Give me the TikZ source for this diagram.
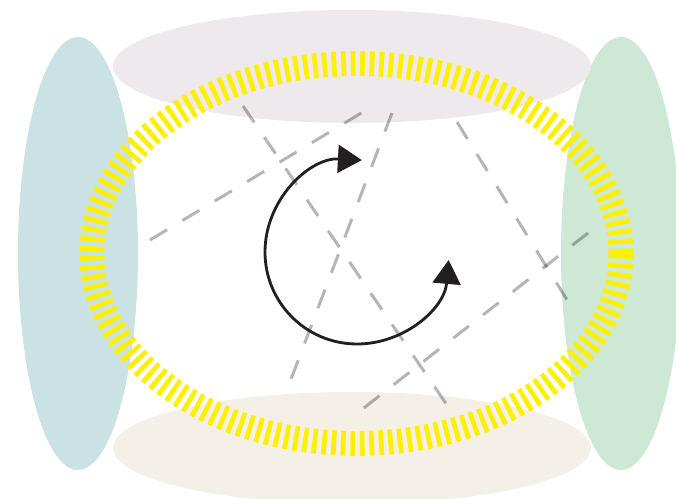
\documentclass[tikz,border=0pt]{standalone}
\usepackage{tikz}
\usetikzlibrary{arrows.meta}

\definecolor{capblue}{RGB}{203,226,228}
\definecolor{capgreen}{RGB}{205,232,212}
\definecolor{caplilac}{RGB}{237,233,237}
\definecolor{capsand}{RGB}{244,240,232}
\definecolor{ringyellow}{RGB}{255,240,0}
\definecolor{arcblack}{RGB}{35,31,32}

\tikzset{
    ringline/.style={draw=ringyellow, line width=14.2pt, dash pattern=on 2.7pt off 2.7pt},
    crossline/.style={draw=black, draw opacity=0.29, line width=1.7pt, dash pattern=on 11.3pt off 10.2pt},
    turnarrow/.style={draw=arcblack, line width=1.6pt, {Triangle[length=13.6pt, width=15.9pt]}-{Triangle[length=13.6pt, width=15.9pt]}}
}

\begin{document}
\begin{tikzpicture}[x=0.02cm, y=0.02cm]

    % ================= canvas =================
    \useasboundingbox (0,0) rectangle (676,499);
    \clip (0,0) rectangle (676,499);

    % ================= outer caps (soft ellipses) =================
    \coordinate (west)  at (78, 245.5);
    \coordinate (east)  at (621, 245.5);
    \coordinate (north) at (352, 432.5);
    \coordinate (south) at (352, 51);

    \fill[capblue]  (west)  ellipse [x radius=60, y radius=216.5];
    \fill[capgreen] (east)  ellipse [x radius=60, y radius=216.5];
    \fill[caplilac] (north) ellipse [x radius=239, y radius=56.5];
    \fill[capsand]  (south) ellipse [x radius=239, y radius=56];

    % ================= yellow ring =================
    \coordinate (ringc) at (356.5, 245.5);
    \path[ringline] (ringc) ellipse [x radius=264.5, y radius=190];

    % ================= grey dashed lines =================
    \coordinate (la1) at (150,259); \coordinate (lb1) at (373,393);
    \coordinate (la2) at (243,393); \coordinate (lb2) at (447,94);
    \coordinate (la3) at (392,386); \coordinate (lb3) at (285,104);
    \coordinate (la4) at (457,377); \coordinate (lb4) at (572,191);
    \coordinate (la5) at (588,266); \coordinate (lb5) at (351,81);
    \foreach \i in {1,...,5}
        \path[crossline] (la\i) -- (lb\i);

    % ================= turning arrow =================
    \coordinate (turnc) at (357, 247);
    \path[turnarrow] (turnc) ++(87:92) arc [start angle=87, end angle=355, radius=92];

\end{tikzpicture}
\end{document}
